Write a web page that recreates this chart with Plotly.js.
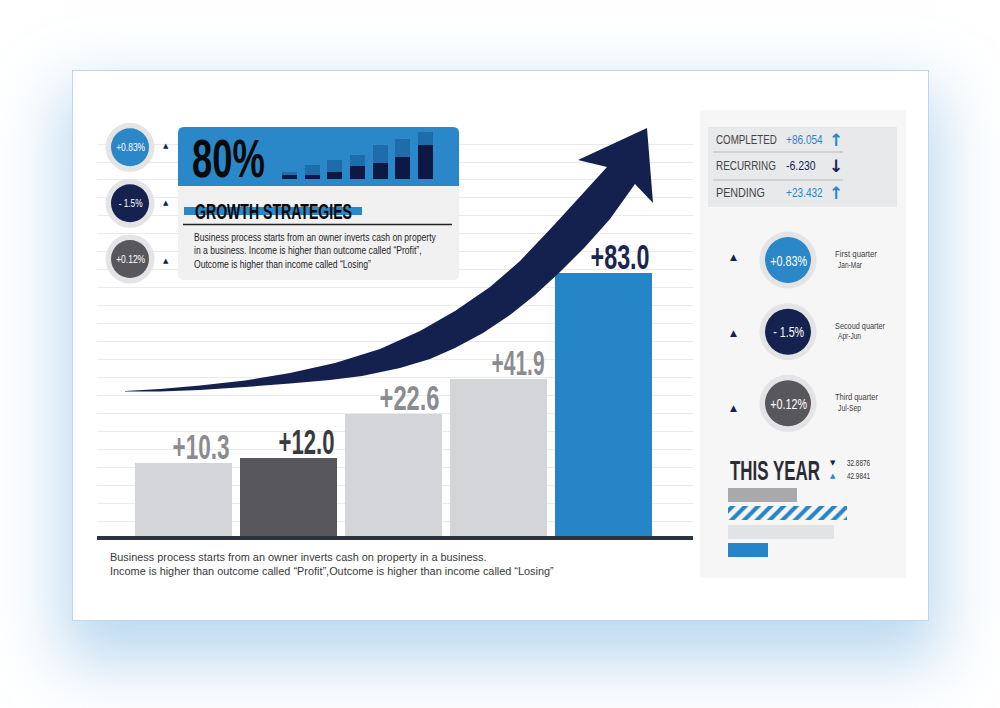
<!DOCTYPE html>
<html><head><meta charset="utf-8">
<script src="https://cdn.plot.ly/plotly-3.0.1.min.js"></script>
<style>
html,body{margin:0;padding:0;background:#fff;width:1000px;height:708px;overflow:hidden}
#card{position:absolute;left:72px;top:70px;width:855px;height:549px;background:#fff;border:1px solid #bcd7ec;box-shadow:0 30px 60px 10px rgba(120,180,225,0.5)}
#chart{position:absolute;left:0;top:0;width:1000px;height:708px}
</style></head><body>
<div id="card"></div><div id="chart"></div>
<script>
// ---------- data ----------
const barLabels = ['+10.3', '+12.0', '+22.6', '+41.9', '+83.0'];
const barHeights = [4.04, 4.32, 6.78, 8.71, 14.59];   // drawn height, in grid rows
const miniTotal = [7, 14.3, 19.3, 24.7, 34.3, 40.7, 47];
const miniInner = [4, 4, 7.7, 13.7, 16.7, 22.7, 34.7];
const miniIdx = [0, 1, 2, 3, 4, 5, 6];
const headline = '80%';
const headTitle = 'GROWTH STRATEGIES';
const headText = 'Business process starts from an owner inverts cash on property<br>in a business. Income is higher than outcome called “Profit”,<br>Outcome is higher than income called “Losing”';
const footText = 'Business process starts from an owner inverts cash on property in a business.<br>Income is higher than outcome called “Profit”,Outcome is higher than income called “Losing”';
const statusNames = ['COMPLETED', 'RECURRING', 'PENDING'];
const statusValues = ['+86.054', '-6.230', '+23.432'];
const statusDirs = ['↑', '↓', '↑'];
const quarterValues = ['+0.83%', '- 1.5%', '+0.12%'];
const quarterNames = ['First quarter', 'Secoud quarter', 'Third quarter'];
const quarterMonths = ['Jan-Mar', 'Apr-Jun', 'Jul-Sep'];
const yearTitle = 'THIS YEAR';
const yearStats = ['32.8876', '42.9841'];
const yearBars = [69, 119, 106, 40];
const yearRows = [0, 1, 2, 3];

// ---------- style ----------
const SANS = '"Liberation Sans", Arial, sans-serif';
const SYM = '"DejaVu Sans", sans-serif';
const BLUE = '#2a87c8', NAVY = '#15224f', GREY = '#58585c', RING = '#e4e4e6';
const qColors = [BLUE, NAVY, GREY];

const H = 708;
const fy = px => 1 - px / H;

const traces = [
  {type:'bar', x: barLabels, y: barHeights, xaxis:'x', yaxis:'y', width:0.924,
   marker:{color:['#d3d5d9', '#57575b', '#d3d5d9', '#d3d5d9', '#2585c7']}, hoverinfo:'skip'},
  {type:'scatter', x:[], y:[], xaxis:'x2', yaxis:'y2', hoverinfo:'skip'},
  {type:'bar', x: miniIdx, y: miniTotal, xaxis:'x3', yaxis:'y3', width:0.667,
   marker:{color:'#1e6ca9'}, hoverinfo:'skip'},
  {type:'bar', x: miniIdx, y: miniInner, xaxis:'x3', yaxis:'y3', width:0.667,
   marker:{color:'#0d1944'}, hoverinfo:'skip'},
  {type:'bar', orientation:'h', x: yearBars, y: yearRows, xaxis:'x4', yaxis:'y4', width:0.76,
   marker:{color:['#a9a9ab', '#2585c7', '#e2e3e5', '#2585c7'],
           pattern:{shape:['', '/', '', ''], fgcolor:'#3cb4c4', size:9, solidity:0.45, fillmode:'replace'}},
   hoverinfo:'skip'}
];

// ---------- decorations ----------
function rr(x0, y0, x1, y1, r, topOnly) {
  const rb = topOnly ? 0 : r;
  return `M${x0 + r},${y0} L${x1 - r},${y0} Q${x1},${y0} ${x1},${y0 + r} L${x1},${y1 - rb} Q${x1},${y1} ${x1 - rb},${y1} L${x0 + rb},${y1} Q${x0},${y1} ${x0},${y1 - rb} L${x0},${y0 + r} Q${x0},${y0} ${x0 + r},${y0} Z`;
}
const P = {xref:'x2', yref:'y2', layer:'between'};
const shapes = [];
function rect(x0, y0, x1, y1, color) { shapes.push(Object.assign({type:'rect', x0, y0, x1, y1, fillcolor:color, line:{width:0}}, P)); }
function circ(cx, cy, r, color) { shapes.push(Object.assign({type:'circle', x0:cx - r, x1:cx + r, y0:cy - r, y1:cy + r, fillcolor:color, line:{width:0}}, P)); }
function line(x0, y0, x1, y1, color, w) { shapes.push(Object.assign({type:'line', x0, y0, x1, y1, line:{color, width:w}}, P)); }

rect(700, 110, 906, 578, '#f6f6f7');
rect(708, 127, 897, 207, '#e8e9eb');
line(713, 152, 843, 152, '#c7c8cb', 1.5);
line(713, 180, 843, 180, '#c7c8cb', 1.5);
shapes.push(Object.assign({type:'path', path: rr(178, 127, 459, 280, 6, false), fillcolor:'#f1f1f2', line:{width:0}}, P));
shapes.push(Object.assign({type:'path', path: rr(178, 127, 459, 186, 6, true), fillcolor:BLUE, line:{width:0}}, P));
rect(184, 207, 362, 215, BLUE);
line(183, 224.5, 452, 224.5, '#222', 1.5);
const leftCy = [147.3, 203.3, 259], rightCy = [260, 331.7, 403.3];
for (let i = 0; i < 3; i++) {
  circ(130, leftCy[i], 24.5, RING); circ(130, leftCy[i], 19, qColors[i]);
  circ(788, rightCy[i], 28.5, RING); circ(788, rightCy[i], 23, qColors[i]);
}
const arrowPts = [[125,391],[160,389],[200,385.5],[245,380.5],[290,373],[335,363],[380,349],[420,331],[455,311],[490,287],[520,261],[555,224],[607,167],
  [578,160],[647,128],[653,203],[635,184],
  [610,219],[585,247],[560,272],[535,295],[510,315],[483,333],[455,348],[430,359],[400,368],[362,376],[330,380],[290,383.5],[245,387],[200,390],[160,391.5],[125,391.5]];
shapes.push({type:'path', xref:'x2', yref:'y2', layer:'above', fillcolor:'#14214f', line:{width:0},
  path: 'M' + arrowPts.map(p => p[0] + ',' + p[1]).join(' L') + ' Z'});

// ---------- text ----------
const ann = [];
const fitW = [];   // target rendered width (px) for horizontally condensed texts; 0 = as is
function T(x, y, text, family, size, color, o, fit) {
  o = o || {};
  const f = {family, size, color};
  if (o.weight) f.weight = o.weight;
  const a = Object.assign({xref:'x2', yref:'y2', x, y, text, showarrow:false, xanchor:'left', yanchor:'middle'}, o);
  delete a.weight;
  a.font = f;
  ann.push(a); fitW.push(fit || 0);
}
const labelColors = ['#8b8c90', '#3a3a3e', '#8b8c90', '#8b8c90', '#1b2550'];
const labelW = [57, 56, 60, 53, 59];
barLabels.forEach((t, i) => {
  ann.push({xref:'x', yref:'y', x:i, y:barHeights[i], text:t, showarrow:false, xanchor:'right', yanchor:'bottom',
    xshift:48.5, yshift:-5, font:{family:SANS, size:35, weight:'bold', color:labelColors[i]}});
  fitW.push(labelW[i]);
});
T(190, 157.5, headline, SANS, 54, '#0a0a0a', {weight:'bold'}, 73);
T(193, 211, headTitle, SANS, 22, '#0a0a0a', {weight:'bold'}, 157);
T(192, 230, headText, SANS, 10.3, '#1e1e1e', {yanchor:'top', align:'left'}, 243);
T(108, 549, footText, SANS, 10.9, '#3a3a3a', {yanchor:'top', align:'left'});
for (let i = 0; i < 3; i++) {
  const up = statusDirs[i] === '↑';
  T(130, leftCy[i], quarterValues[i], SANS, 11.5, '#fff', {xanchor:'center'}, [29, 24, 29][i]);
  T(166, [145.5, 203, 261][i], '▲', SYM, 7, NAVY, {xanchor:'center'});
  T(788, rightCy[i], quarterValues[i], SANS, 15, '#fff', {xanchor:'center'}, [37, 31, 37][i]);
  T(733, [257, 332.7, 408][i], '▲', SYM, 9, NAVY, {xanchor:'center'});
  T(833, rightCy[i] - 6.5, quarterNames[i], SANS, 9.5, '#404040', {}, [42, 50, 43][i]);
  T(836, rightCy[i] + 4, quarterMonths[i], SANS, 9.5, '#404040', {}, [24, 23, 23][i]);
  T(714, [140, 165.8, 192.5][i], statusNames[i], SANS, 12, '#444', {}, [61, 60, 49][i]);
  T(784, [140, 165.8, 192.5][i], statusValues[i], SANS, 12, up ? BLUE : NAVY, {}, [37, 30, 37][i]);
  T(836, [140, 165.8, 192.5][i], statusDirs[i], SYM, 17, up ? BLUE : NAVY, {xanchor:'center', weight:'bold'});
}
T(728, 470.5, yearTitle, SANS, 27, '#2b2b33', {weight:'bold'}, 90);
T(833, 463, '▼', SYM, 7, NAVY, {xanchor:'center'});
T(833, 476, '▲', SYM, 7, BLUE, {xanchor:'center'});
T(845, 463, yearStats[0], SANS, 9, '#333', {}, 23);
T(845, 476, yearStats[1], SANS, 9, '#333', {}, 23);

const hid = {visible:false, fixedrange:true};
const layout = {
  width:1000, height:708, margin:{l:0, r:0, t:0, b:0},
  paper_bgcolor:'rgba(0,0,0,0)', plot_bgcolor:'rgba(0,0,0,0)',
  showlegend:false, barmode:'overlay', bargap:0,
  xaxis:{domain:[0.097, 0.693], range:[-0.824, 4.852], type:'category', showticklabels:false, ticks:'',
         showgrid:false, zeroline:false, showline:true, linecolor:'#2d333d', linewidth:4, fixedrange:true},
  yaxis:{domain:[fy(536), fy(126)], range:[0, 22.78], tick0:0.78, dtick:1, showgrid:true, gridcolor:'#ebebeb',
         gridwidth:1, showticklabels:false, ticks:'', zeroline:false, showline:false, fixedrange:true},
  xaxis2:Object.assign({domain:[0, 1], range:[0, 1000], anchor:'y2'}, hid),
  yaxis2:Object.assign({domain:[0, 1], range:[708, 0], anchor:'x2'}, hid),
  xaxis3:Object.assign({domain:[0.27825, 0.43675], range:[-0.5, 6.5], anchor:'y3'}, hid),
  yaxis3:Object.assign({domain:[fy(179.3), fy(129.3)], range:[0, 50], anchor:'x3'}, hid),
  xaxis4:Object.assign({domain:[0.728, 0.878], range:[0, 150], anchor:'y4'}, hid),
  yaxis4:Object.assign({domain:[fy(559.6), fy(485.4)], range:[3.5, -0.5], anchor:'x4'}, hid),
  shapes, annotations: ann
};

// condense selected texts horizontally (the reference uses a narrow display face)
function condense() {
  const groups = document.querySelectorAll('#chart g.annotation');
  groups.forEach((g, k) => {
    const di = g.getAttribute('data-index');
    const i = di !== null ? +di : k;
    const target = fitW[i];
    if (!target) return;
    const t = g.querySelector('text');
    if (!t) return;
    const bb = t.getBBox();
    if (!bb.width) return;
    const s = target / bb.width;
    const xa = ann[i].xanchor;
    const x0 = xa === 'right' ? bb.x + bb.width : xa === 'center' ? bb.x + bb.width / 2 : bb.x;
    const prev = t.getAttribute('transform') || '';
    t.setAttribute('transform', `${prev} translate(${x0},0) scale(${s.toFixed(4)},1) translate(${-x0},0)`.trim());
  });
}
Plotly.newPlot('chart', traces, layout, {staticPlot:true, displayModeBar:false}).then(condense);
</script></body></html>
